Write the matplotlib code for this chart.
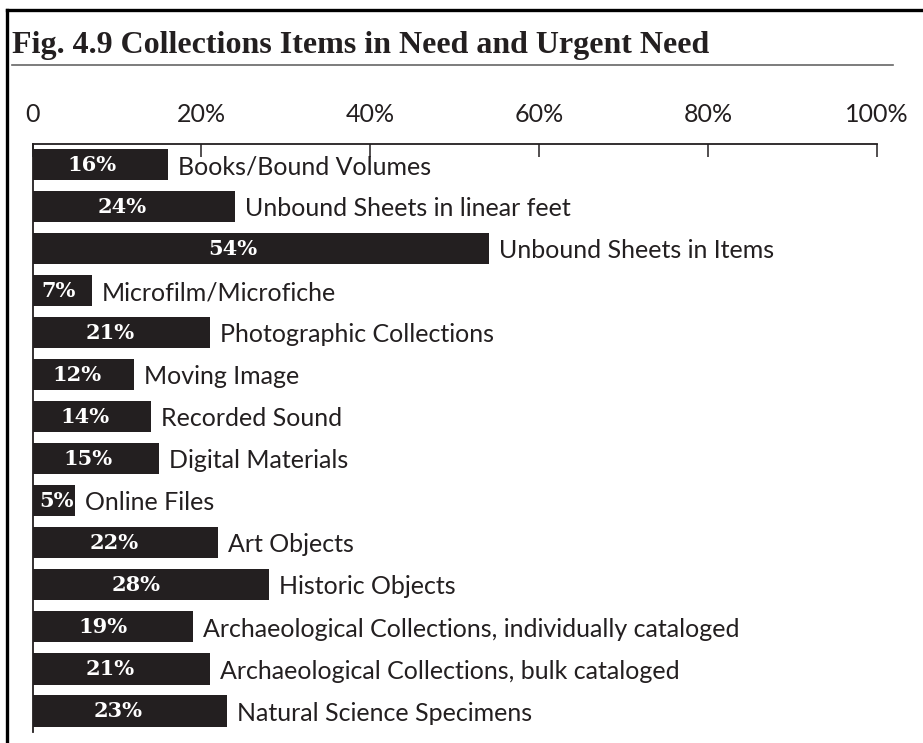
import matplotlib
matplotlib.use("Agg")
import matplotlib.pyplot as plt
from matplotlib.lines import Line2D

categories = [
    "Books/Bound Volumes",
    "Unbound Sheets in linear feet",
    "Unbound Sheets in Items",
    "Microfilm/Microfiche",
    "Photographic Collections",
    "Moving Image",
    "Recorded Sound",
    "Digital Materials",
    "Online Files",
    "Art Objects",
    "Historic Objects",
    "Archaeological Collections, individually cataloged",
    "Archaeological Collections, bulk cataloged",
    "Natural Science Specimens",
]
values = [16, 24, 54, 7, 21, 12, 14, 15, 5, 22, 28, 19, 21, 23]
tick_values = [0, 20, 40, 60, 80, 100]
tick_labels = ["0", "20%", "40%", "60%", "80%", "100%"]
title = "Fig. 4.9 Collections Items in Need and Urgent Need"

W, H = 923, 743
dark = "#231f20"
fig = plt.figure(figsize=(W / 100, H / 100), dpi=100)
fig.patch.set_facecolor("white")

# axes placement in pixels
x0, x1 = 32.5, 877
y_top, y_bot = 144, 732
ax = fig.add_axes([x0 / W, 1 - y_bot / H, (x1 - x0) / W, (y_bot - y_top) / H])

ypos = list(range(len(values)))
ax.barh(ypos, values, height=0.74, color=dark, edgecolor="none", zorder=2)
ax.set_xlim(0, 100)
ax.set_ylim(len(values) - 0.5, -0.49)

for y, v, c in zip(ypos, values, categories):
    cx = max(0.44 * v, 2.8)
    ax.text(cx, y, f"{v}%", color="white", fontsize=15, fontweight="bold",
            family="DejaVu Serif", ha="center", va="center", zorder=3)
    ax.text(v + 1.2, y + 0.05, c, color=dark, fontsize=18, family="Lato",
            ha="left", va="center", zorder=3)

for s in ["right", "bottom"]:
    ax.spines[s].set_visible(False)
for s in ["top", "left"]:
    ax.spines[s].set_color(dark)
    ax.spines[s].set_linewidth(1.3)

ax.xaxis.tick_top()
ax.set_xticks(tick_values)
ax.set_xticklabels(tick_labels, family="Lato", fontsize=18, color=dark)
ax.tick_params(axis="x", direction="in", length=9.5, width=1.1, color=dark, pad=13)
ax.set_yticks([])
ax.patch.set_alpha(0)

# title and rule
fig.text(12 / W, 1 - 53 / H, title, fontsize=23, fontweight="bold",
         family="Liberation Serif", color=dark, ha="left", va="baseline")
fig.add_artist(Line2D([12 / W, 893 / W], [1 - 65 / H, 1 - 65 / H],
                      color="#666666", linewidth=1.2, transform=fig.transFigure))

# frame border (top and left)
fig.add_artist(Line2D([6.5 / W, 1.0], [1 - 10 / H, 1 - 10 / H],
                      color="black", linewidth=2.4, transform=fig.transFigure))
fig.add_artist(Line2D([6.5 / W, 6.5 / W], [1 - 10 / H, 0],
                      color="black", linewidth=2.4, transform=fig.transFigure))

fig.savefig("out.png", dpi=100, facecolor="white")
